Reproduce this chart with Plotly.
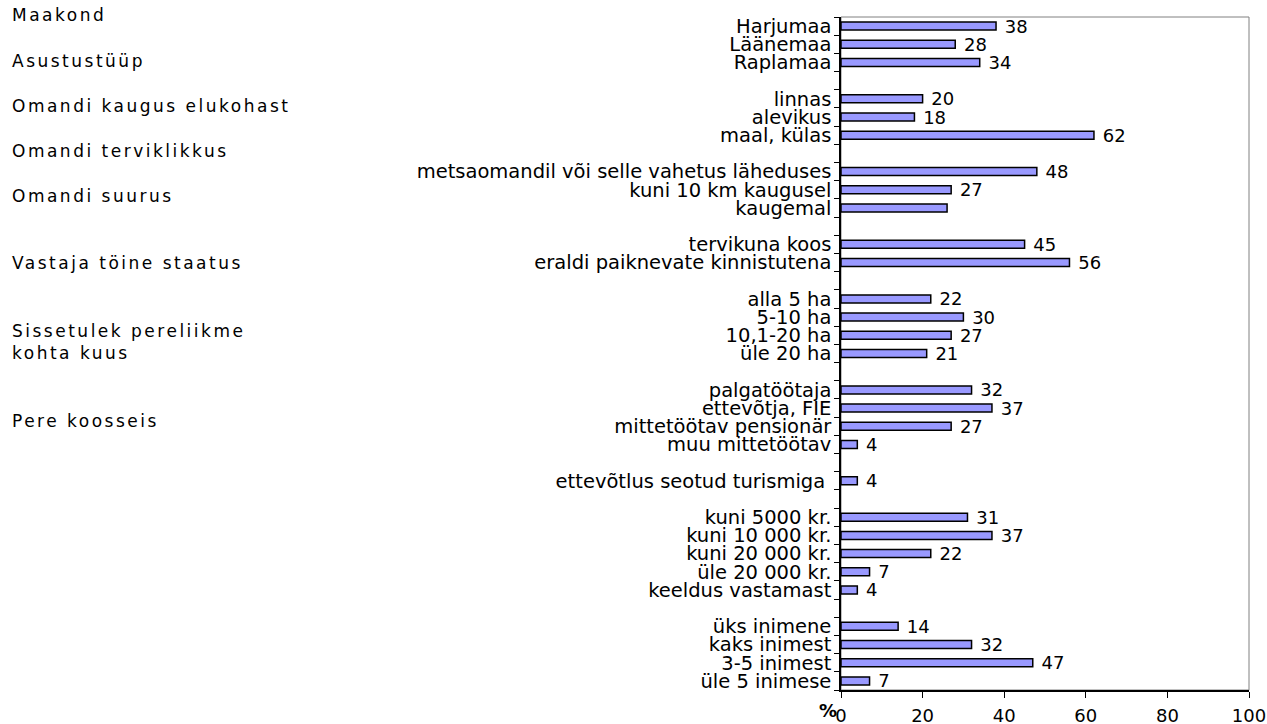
import plotly.graph_objects as go

# ---- data ----
group_categories = [
    ["Harjumaa", "Läänemaa", "Raplamaa"],
    ["linnas", "alevikus", "maal, külas"],
    ["metsaomandil või selle vahetus läheduses", "kuni 10 km kaugusel", "kaugemal"],
    ["tervikuna koos", "eraldi paiknevate kinnistutena"],
    ["alla 5 ha", "5-10 ha", "10,1-20 ha", "üle 20 ha"],
    ["palgatöötaja", "ettevõtja, FIE", "mittetöötav pensionär", "muu mittetöötav"],
    ["ettevõtlus seotud turismiga "],
    ["kuni 5000 kr.", "kuni 10 000 kr.", "kuni 20 000 kr.", "üle 20 000 kr.", "keeldus vastamast"],
    ["üks inimene", "kaks inimest", "3-5 inimest", "üle 5 inimese"],
]
group_values = [
    [38, 28, 34],
    [20, 18, 62],
    [48, 27, 26],
    [45, 56],
    [22, 30, 27, 21],
    [32, 37, 27, 4],
    [4],
    [31, 37, 22, 7, 4],
    [14, 32, 47, 7],
]
hidden_value_labels = {"kaugemal"}
group_headings = [
    "Maakond",
    "Asustustüüp",
    "Omandi kaugus elukohast",
    "Omandi terviklikkus",
    "Omandi suurus",
    "Vastaja töine staatus",
    "Sissetulek pereliikme<br>kohta kuus",
    "Pere koosseis",
]
x_ticks = [0, 20, 40, 60, 80, 100]
x_title = "%"

# ---- build positions (one empty slot between groups) ----
ys, labels, vals, texts = [], [], [], []
pos = 1
for gi, (cats, vs) in enumerate(zip(group_categories, group_values)):
    if gi > 0:
        pos += 1
    for c, v in zip(cats, vs):
        ys.append(pos)
        labels.append(c)
        vals.append(v)
        texts.append("" if c in hidden_value_labels else " " + str(v))
        pos += 1
n_slots = pos - 1

FONT = "DejaVu Sans, Verdana, sans-serif"

fig = go.Figure(go.Bar(
    x=vals, y=ys, orientation="h", width=0.44,
    marker=dict(color="#9999ff", line=dict(color="black", width=1.5)),
    text=texts, textposition="outside", cliponaxis=False, constraintext="none",
    textfont=dict(family=FONT, size=18, color="black"),
))

W, H = 1267, 724
ml, mr, mt, mb = 841, 18, 17, 34
pw, ph = W - ml - mr, H - mt - mb

fig.update_layout(
    width=W, height=H, autosize=False,
    margin=dict(l=ml, r=mr, t=mt, b=mb, pad=0, autoexpand=False),
    plot_bgcolor="white", paper_bgcolor="white",
    showlegend=False,
    font=dict(family=FONT, size=18, color="black"),
    xaxis=dict(
        range=[0, 100], tickvals=x_ticks, ticks="outside", ticklen=6,
        tickcolor="black", showgrid=False, zeroline=False, automargin=False,
        showline=True, linecolor="black", linewidth=1.5,
        tickfont=dict(family=FONT, size=18, color="black"),
        ticklabelstandoff=3,
    ),
    yaxis=dict(
        range=[n_slots + 0.5, 0.5], tickvals=ys, ticktext=labels,
        ticks="", showgrid=False, zeroline=False, automargin=False,
        showline=True, linecolor="black", linewidth=1.5,
        tickfont=dict(family=FONT, size=19.5, color="black"),
        ticklabelstandoff=4,
        minor=dict(tickmode="linear", tick0=0.5, dtick=1, ticks="outside",
                   ticklen=5, tickcolor="black", showgrid=False),
    ),
    shapes=[dict(type="rect", xref="paper", yref="paper", x0=0, x1=1, y0=0, y1=1,
                 line=dict(color="#808080", width=1), layer="below")],
)

heading_px = [15, 61, 106, 151, 196, 263, 342, 421]
for txt, py in zip(group_headings, heading_px):
    styled = "<br>".join(
        '<span style="letter-spacing:2.5px">%s</span>' % part for part in txt.split("<br>"))
    fig.add_annotation(
        x=(10 - ml) / pw, y=1 - (py - mt) / ph, xref="paper", yref="paper",
        text=styled, showarrow=False, xanchor="left", yanchor="middle", align="left",
        font=dict(family=FONT, size=17, color="black"),
    )

fig.add_annotation(
    x=(828 - ml) / pw, y=1 - (711 - mt) / ph, xref="paper", yref="paper",
    text="<b>%s</b>" % x_title, showarrow=False, xanchor="center", yanchor="middle",
    font=dict(family=FONT, size=18, color="black"),
)

fig.write_html("out.html", config={"displayModeBar": False},
               post_script="document.body.style.margin='0px';")
